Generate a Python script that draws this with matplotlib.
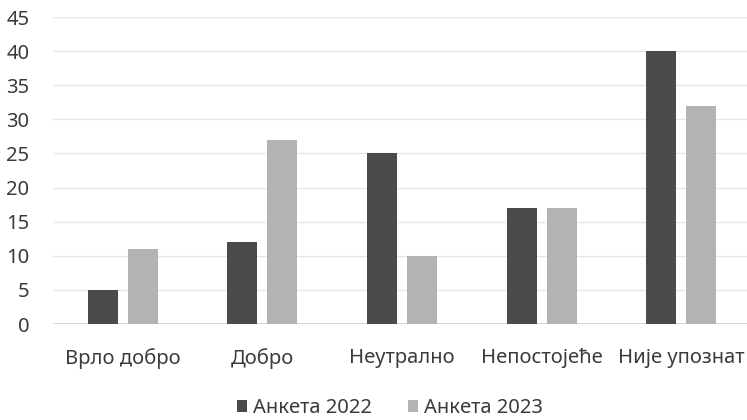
import matplotlib
matplotlib.use("Agg")
import matplotlib.pyplot as plt
import numpy as np

categories = ["Врло добро", "Добро", "Неутрално", "Непостојеће", "Није упознат"]
survey_2022 = [5, 12, 25, 17, 40]
survey_2023 = [11, 27, 10, 17, 32]
series_labels = ["Анкета 2022", "Анкета 2023"]
y_ticks = [0, 5, 10, 15, 20, 25, 30, 35, 40, 45]

plt.rcParams["font.family"] = ["Noto Sans", "DejaVu Sans"]
text_color = "#3a3a3a"

W, H = 747, 420
fig = plt.figure(figsize=(W / 100, H / 100), dpi=100)
ax = fig.add_axes([53 / W, 96 / H, 698 / W, 307 / H])

x = np.arange(len(categories))
bw = 0.215
off = 0.143
ax.bar(x - off, survey_2022, width=bw, color="#4b4b4b", label=series_labels[0], zorder=3)
ax.bar(x + off, survey_2023, width=bw, color="#b3b3b3", label=series_labels[1], zorder=3)

ax.set_xlim(-0.5, len(categories) - 0.5)
ax.set_ylim(0, 45)
ax.set_yticks(y_ticks)
ax.set_xticks(x)
ax.set_xticklabels(categories)
ax.yaxis.grid(True, color="#e6e6e6", linewidth=1.0, zorder=0)
ax.axhline(0, color="#d0d0d0", linewidth=1.2, zorder=2)
for s in ax.spines.values():
    s.set_visible(False)
ax.tick_params(axis="both", length=0, labelsize=14.5, colors=text_color)
ax.tick_params(axis="y", pad=17)
ax.tick_params(axis="x", pad=17)

leg = fig.legend(loc="center", bbox_to_anchor=(390 / W, 1 - 408 / H), ncol=2,
                 frameon=False, fontsize=14.5, handlelength=0.5, handleheight=0.5,
                 handletextpad=0.3, columnspacing=1.8)
for t in leg.get_texts():
    t.set_color(text_color)

fig.savefig("out.png", dpi=100)
